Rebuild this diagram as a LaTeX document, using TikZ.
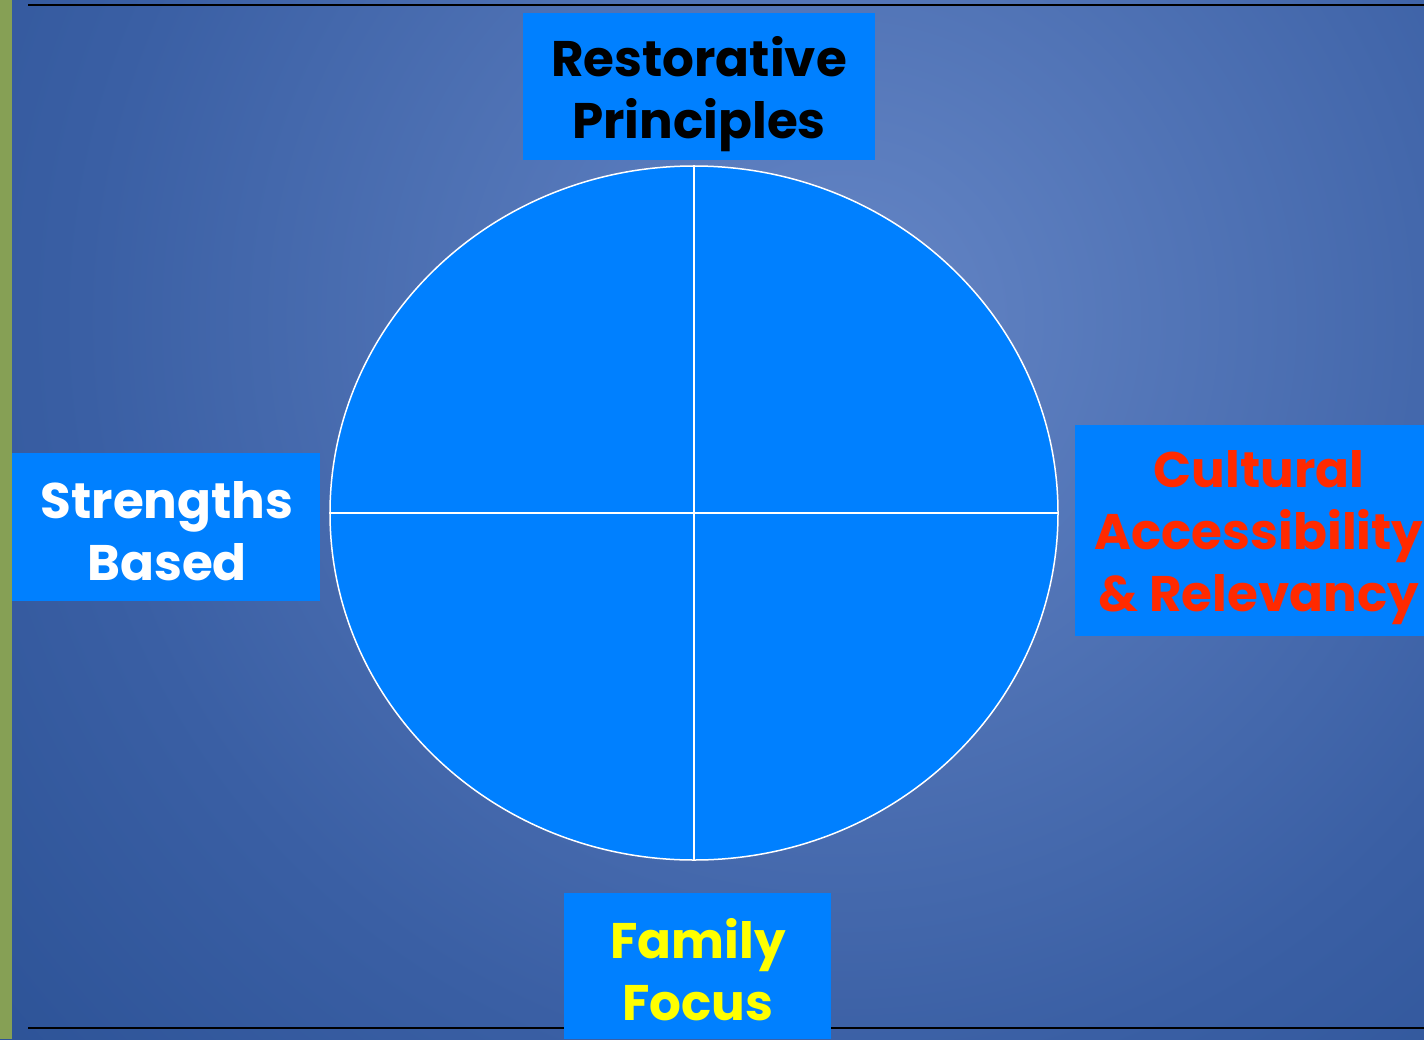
\documentclass[tikz,border=0pt]{standalone}
\usepackage{fontspec}
\usetikzlibrary{shapes.geometric}
\setmainfont{Poppins}[BoldFont=* Bold]
\definecolor{boxblue}{HTML}{0080FF}
\definecolor{bglight}{HTML}{6586C6}
\definecolor{bgmid}{HTML}{3A5FA4}
\definecolor{bgdark}{HTML}{173F82}
\definecolor{stripgreen}{HTML}{86A055}
\definecolor{txtred}{HTML}{FF2A00}
\definecolor{txtyellow}{HTML}{FFFF00}
\pgfdeclareradialshading{bgglow}{\pgfpoint{0bp}{0bp}}{color(0bp)=(bglight); color(22bp)=(bgmid); color(50bp)=(bgdark)}
\tikzset{
  label box/.style={fill=boxblue, draw=none, inner sep=0pt},
  label text/.style={align=center, inner sep=0pt,
     font=\bfseries\fontsize{50}{62}\selectfont},
}
\begin{document}
\begin{tikzpicture}[x=1pt,y=-1pt]
\useasboundingbox (0,0) rectangle (1424,1039);
\begin{scope}
\clip (0,0) rectangle (1424,1039);
\shade[shading=bgglow] (840-860,320-860) rectangle (840+860,320+860);
\end{scope}
\fill[stripgreen] (0,0) rectangle (12,1039);
\draw[line width=2.5pt] (28,5) -- (1424,5);
\draw[line width=2.5pt] (28,1028) -- (1424,1028);
% circle
\node (wheel) [ellipse, minimum width=728pt, minimum height=694pt, inner sep=0pt,
   fill=boxblue, draw=white, line width=1.5pt] at (694,513) {};
\draw[white, line width=1.5pt] (wheel.north) -- (wheel.south);
\draw[white, line width=1.5pt] (wheel.west) -- (wheel.east);
% boxes
\node (rp) [label box, minimum width=352pt, minimum height=147pt] at (699,86.5) {};
\node (sb) [label box, minimum width=308pt, minimum height=148pt] at (166,527) {};
\node (ca) [label box, minimum width=349pt, minimum height=211pt] at (1249.5,530.5) {};
\node (ff) [label box, minimum width=267pt, minimum height=146pt] at (697.5,966) {};
% texts
\node (rpt) [label text, text=black] at (699,94) {Restorative\\Principles};
\node (sbt) [label text, text=white] at (167,531) {Strengths\\Based};
\node (cat) [label text, text=txtred] at (1259,538) {Cultural\\Accessibility\\\& Relevancy};
\node (fft) [label text, text=txtyellow] at (698,970) {Family\\Focus};
\end{tikzpicture}
\end{document}
